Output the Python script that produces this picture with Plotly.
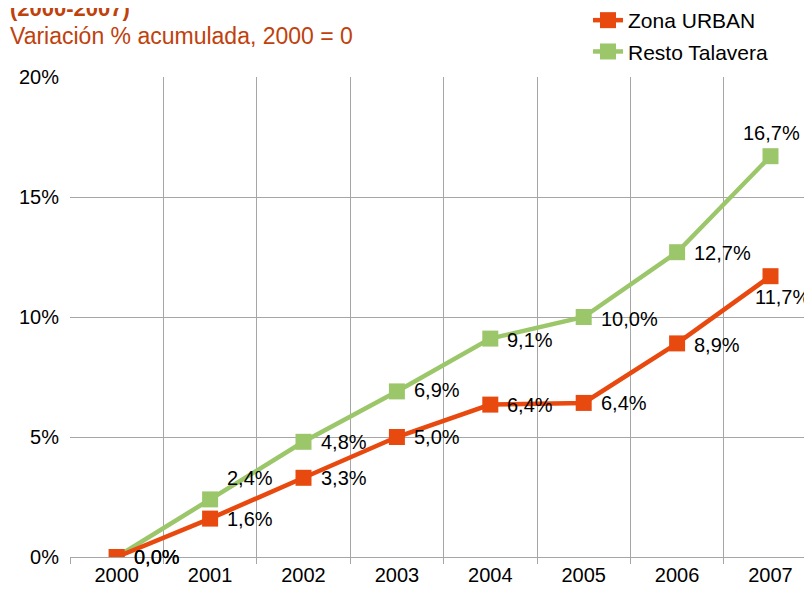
import plotly.graph_objects as go

years = ["2000", "2001", "2002", "2003", "2004", "2005", "2006", "2007"]
urban = [0.0, 1.6, 3.3, 5.0, 6.35, 6.42, 8.9, 11.7]
resto = [0.0, 2.4, 4.8, 6.9, 9.1, 10.0, 12.7, 16.7]
urban_labels = ["0,0%", "1,6%", "3,3%", "5,0%", "6,4%", "6,4%", "8,9%", "11,7%"]
resto_labels = ["0,0%", "2,4%", "4,8%", "6,9%", "9,1%", "10,0%", "12,7%", "16,7%"]
y_ticks = [0, 5, 10, 15, 20]
y_ticklabels = ["0%", "5%", "10%", "15%", "20%"]

ORANGE = "#E8490F"
GREEN = "#9BC76A"
FONT = "Liberation Sans, Arial, sans-serif"

fig = go.Figure()
fig.add_trace(go.Scatter(
    x=years, y=resto, name="Resto Talavera", mode="lines+markers",
    line=dict(color=GREEN, width=4.5),
    marker=dict(symbol="square", size=16, color=GREEN),
    legendrank=2, legendgroup="b",
))
fig.add_trace(go.Scatter(
    x=years, y=urban, name="Zona URBAN", mode="lines+markers",
    line=dict(color=ORANGE, width=4.5),
    marker=dict(symbol="square", size=16, color=ORANGE),
    legendrank=1, legendgroup="a",
))

# label placement offsets (px): (xanchor, xshift, yshift)
urban_pos = [("left", 15, 0), ("left", 15, 0), ("left", 15, 0), ("left", 15, 0),
             ("left", 15, 0), ("left", 15, 0), ("left", 15, -2), ("center", 12, -21)]
resto_pos = [("left", 15, 0), ("left", 15, 21), ("left", 15, 0), ("left", 15, 1),
             ("left", 15, -1), ("left", 15, -2), ("left", 15, -1), ("center", 1, 23)]

annotations = []
for ys, labs, pos in [(urban, urban_labels, urban_pos),
                      (resto, resto_labels, resto_pos)]:
    for i, (yv, lab, (xa, dx, dy)) in enumerate(zip(ys, labs, pos)):
        annotations.append(dict(
            x=i, y=yv, xref="x", yref="y", text=lab, showarrow=False,
            xanchor=xa, yanchor="middle", xshift=dx, yshift=dy,
            font=dict(family=FONT, size=20, color="#000000"),
        ))

annotations.append(dict(
    x=-0.0827, y=1.143, xref="paper", yref="paper", text="<b>(2000-2007)</b>",
    showarrow=False, xanchor="left", yanchor="middle",
    font=dict(family=FONT, size=22, color="#C0410C"),
))
annotations.append(dict(
    x=-0.0827, y=1.0854, xref="paper", yref="paper",
    text="Variación % acumulada, 2000 = 0",
    showarrow=False, xanchor="left", yanchor="middle",
    font=dict(family=FONT, size=23, color="#C0410C"),
))

fig.update_layout(
    width=812, height=596,
    margin=dict(l=62, r=0, t=69, b=47, autoexpand=False),
    paper_bgcolor="white", plot_bgcolor="white",
    font=dict(family=FONT, size=20, color="#000000"),
    showlegend=True,
    legend=dict(x=0.6907, y=1.1604, xref="paper", yref="paper",
                xanchor="left", yanchor="top",
                font=dict(family=FONT, size=21, color="#000000"),
                traceorder="grouped", tracegroupgap=1,
                bgcolor="rgba(0,0,0,0)"),
    annotations=annotations,
)
fig.update_xaxes(
    type="category", range=[-0.5, 7.53], automargin=False,
    showgrid=True, gridcolor="#A6A6A6", gridwidth=1,
    tickson="boundaries", ticks="outside", ticklen=6, tickcolor="#A6A6A6",
    showline=True, linecolor="#A6A6A6", linewidth=1,
    tickfont=dict(family=FONT, size=20), zeroline=False,
)
fig.update_yaxes(
    range=[0, 20], tickvals=y_ticks, ticktext=y_ticklabels, automargin=False,
    showgrid=True, gridcolor="#A6A6A6", gridwidth=1,
    zeroline=False, showline=False, ticks="", ticklabelstandoff=10,
    tickfont=dict(family=FONT, size=20),
)

fig.write_html("out.html")
